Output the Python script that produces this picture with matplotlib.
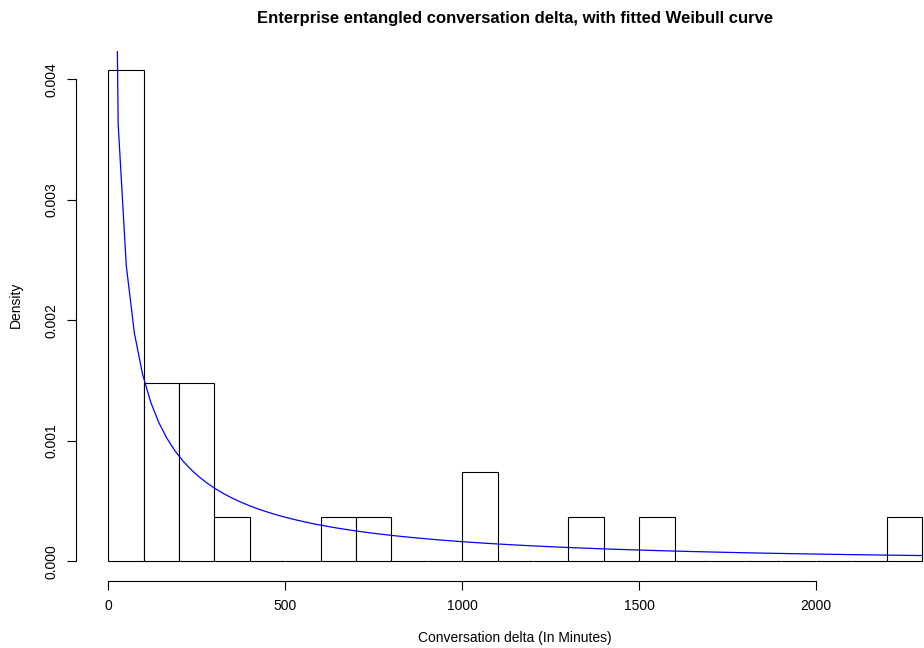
import numpy as np
import matplotlib
matplotlib.use("Agg")
import matplotlib.pyplot as plt

plt.rcParams['font.family'] = ['Liberation Sans', 'DejaVu Sans']

# histogram of conversation deltas (minutes), 100-minute bins
bin_edges = np.arange(0, 2400, 100)
bin_counts = [11, 4, 4, 1, 0, 0, 1, 1, 0, 0, 2, 0, 0, 1, 0, 1,
              0, 0, 0, 0, 0, 0, 1]
n_obs = sum(bin_counts)

# fitted Weibull parameters
weibull_shape = 0.5
weibull_scale = 400.0
curve_from = 5
curve_to = 2300

x_ticks = [0, 500, 1000, 1500, 2000]
y_ticks = [0.000, 0.001, 0.002, 0.003, 0.004]

width = bin_edges[1] - bin_edges[0]
density = np.array(bin_counts) / (n_obs * width)


def dweibull(x, k, lam):
    return (k / lam) * (x / lam) ** (k - 1) * np.exp(-(x / lam) ** k)


fig = plt.figure(figsize=(9.24, 6.48), dpi=100)
ax = fig.add_axes([75.7 / 924, (648 - 580.9) / 648, 879.1 / 924, 530.2 / 648])

ax.bar(bin_edges[:-1], density, width=width, align='edge',
       facecolor='white', edgecolor='black', linewidth=0.8)

xs = np.linspace(curve_from, curve_to, 101)
ax.plot(xs, dweibull(xs, weibull_shape, weibull_scale), color='blue', linewidth=0.9)

# R-ish axes: 4% padding, detached axis lines
xr = curve_to
ax.set_xlim(-0.04 * xr, xr * 1.04)
ymax = density.max()
ax.set_ylim(-0.04 * ymax, ymax * 1.04)

for s in ['top', 'right']:
    ax.spines[s].set_visible(False)
ax.spines['left'].set_bounds(y_ticks[0], y_ticks[-1])
ax.spines['bottom'].set_bounds(x_ticks[0], x_ticks[-1])
ax.spines['left'].set_linewidth(0.8)
ax.spines['bottom'].set_linewidth(0.8)

ax.set_xticks(x_ticks)
ax.set_xticklabels([str(t) for t in x_ticks])
ax.set_yticks(y_ticks)
ax.set_yticklabels(['%.3f' % t for t in y_ticks], rotation=90, va='center')
ax.tick_params(axis='both', direction='out', length=6.3, width=0.8, labelsize=10)
ax.tick_params(axis='x', pad=7)
ax.tick_params(axis='y', pad=6)

fig.text(515 / 924, 1 - 18 / 648, 'Enterprise entangled conversation delta, with fitted Weibull curve',
         ha='center', va='center', fontsize=12, fontweight='bold')
fig.text(515 / 924, 1 - 638 / 648, 'Conversation delta (In Minutes)',
         ha='center', va='center', fontsize=10)
fig.text(16 / 924, 1 - 305 / 648, 'Density', ha='center', va='center',
         rotation=90, fontsize=10)

fig.savefig('out.png', dpi=100)
